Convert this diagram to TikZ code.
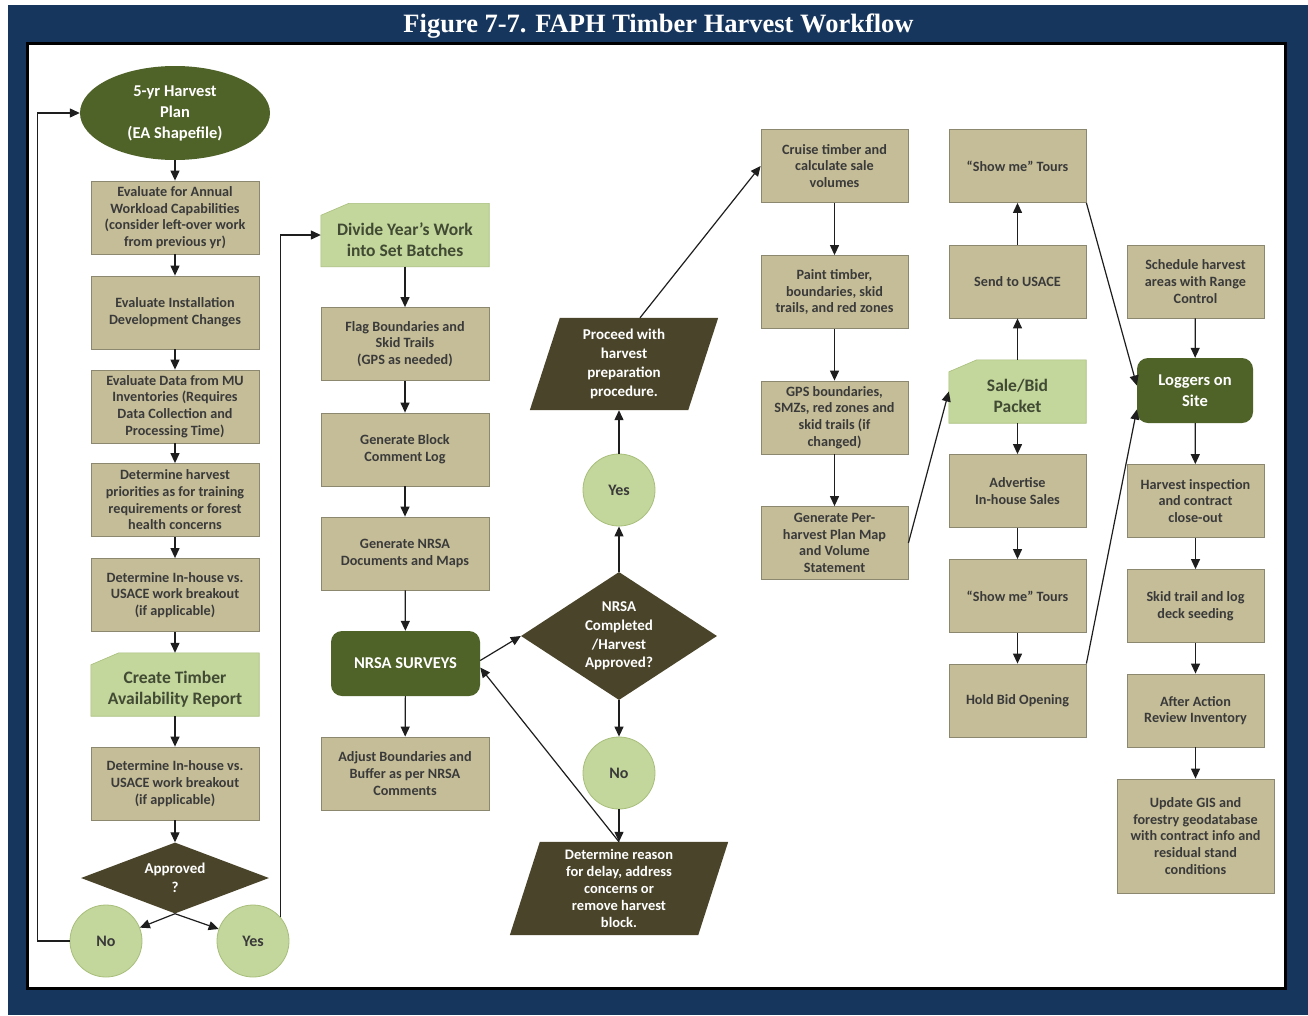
\documentclass[tikz,border=0pt]{standalone}
\usepackage{fontspec}
\setmainfont{Carlito}
\newfontfamily\titlefont{Liberation Serif}
\usetikzlibrary{arrows.meta,shapes.geometric,calc}
\definecolor{navy}{HTML}{17365D}
\definecolor{tanbox}{HTML}{C4BD97}
\definecolor{tanline}{HTML}{8C8870}
\definecolor{lgreen}{HTML}{C3D69B}
\definecolor{lgline}{HTML}{A8BF7C}
\definecolor{dgreen}{HTML}{4F6228}
\definecolor{dbrown}{HTML}{4A452A}
\definecolor{txt}{HTML}{3A3A3A}
\definecolor{cardtxt}{HTML}{414A33}
\definecolor{arrowc}{HTML}{1E1E1E}
\pgfdeclarelayer{bg}
\pgfdeclarelayer{shapes}
\pgfsetlayers{bg,shapes,main}
\newcommand{\cardlift}{\rule{0pt}{22pt}}
\tikzset{
  box/.style={rectangle, fill=tanbox, draw=tanline, line width=0.8pt, text=txt,
    font=\bfseries\fontsize{14.2}{16.7}\selectfont, align=center,
    minimum width=168pt, minimum height=73pt, inner sep=1pt},
  card/.style={rectangle, text=cardtxt, font=\bfseries\fontsize{17.5}{21}\selectfont,
    align=center, minimum width=168pt, minimum height=63pt, inner sep=1pt},
  cardbg/.style={fill=lgreen, draw=lgline, line width=0.6pt},
  circ/.style={circle, fill=lgreen, draw=lgline, line width=0.8pt, minimum size=72pt,
    inner sep=0pt, text=txt, font=\bfseries\fontsize{16}{18}\selectfont},
  ell/.style={ellipse, fill=dgreen, minimum width=190pt, minimum height=94pt, inner sep=0pt,
    text=white, align=center, font=\bfseries\fontsize{16.5}{21}\selectfont},
  rnd/.style={rectangle, rounded corners=11pt, fill=dgreen, text=white, align=center,
    font=\bfseries\fontsize{16.5}{21}\selectfont},
  dia/.style={diamond, fill=dbrown, text=white, align=center, inner sep=0pt,
    font=\bfseries\fontsize{15}{18.7}\selectfont},
  para/.style={rectangle, text=white, align=center, inner sep=0pt,
    font=\bfseries\fontsize{15}{19}\selectfont},
  arr/.style={-{Triangle[length=10pt,width=9pt]}, line width=1.2pt, draw=arrowc},
}
\begin{document}
\begin{tikzpicture}[x=1pt,y=-1pt]
\useasboundingbox (0,0) rectangle (1308,1015);
\begin{pgfonlayer}{bg}
\fill[white] (0,0) rectangle (1308,1015);
\fill[navy] (8,5) rectangle (1308,1015);
\filldraw[fill=white, draw=black, line width=3pt] (27.5,43.5) rectangle (1285.5,988.5);
\end{pgfonlayer}

\node[font=\titlefont\bfseries\fontsize{26.5}{30}\selectfont, text=white, anchor=base] (title) at (658.5,32) {Figure 7-7. FAPH Timber Harvest Workflow};

% left column
\node[ell] (plan) at (175,113) {5-yr Harvest\\Plan\\(EA Shapefile)};
\node[box] (b1) at (175,217.5) {Evaluate for Annual\\Workload Capabilities\\(consider left-over work\\from previous yr)};
\node[box] (b2) at (175,312.5) {Evaluate Installation\\Development Changes};
\node[box] (b3) at (175,406.5) {Evaluate Data from MU\\Inventories (Requires\\Data Collection and\\Processing Time)};
\node[box] (b4) at (175,500) {Determine harvest\\priorities as for training\\requirements or forest\\health concerns};
\node[box] (b5) at (175,595) {Determine In-house vs.\\USACE work breakout\\(if applicable)};
\node[card] (card1) at (175,684.5) {\cardlift Create Timber\\Availability Report};
\node[box] (b6) at (175,783.5) {Determine In-house vs.\\USACE work breakout\\(if applicable)};
\node[dia, minimum width=188pt, minimum height=71pt, aspect=2.6] (appr) at (175,878) {Approved\\?};
\node[circ] (noL) at (106,941) {No};
\node[circ] (yesL) at (253,941) {Yes};

% middle column
\node[card] (card2) at (405,235) {\cardlift Divide Year’s Work\\into Set Batches};
\node[box] (m1) at (405,344) {Flag Boundaries and\\Skid Trails\\(GPS as needed)};
\node[box] (m2) at (405,449.5) {Generate Block\\Comment Log};
\node[box] (m3) at (405,553.5) {Generate NRSA\\Documents and Maps};
\node[rnd, minimum width=149pt, minimum height=65pt] (nrsa) at (405.5,663.5) {NRSA SURVEYS};
\node[box] (m4) at (405,773.5) {Adjust Boundaries and\\Buffer as per NRSA\\Comments};

% decision column
\node[para, minimum width=158pt, minimum height=92pt] (proc) at (624,364) {Proceed with\\harvest\\preparation\\procedure.};
\node[circ] (yesM) at (619,490) {Yes};
\node[dia, minimum width=196pt, minimum height=128pt, aspect=1.53] (dec) at (619,636) {NRSA\\Completed\\/Harvest\\Approved?};
\node[circ] (noM) at (619,773) {No};
\node[para, minimum width=188pt, minimum height=93pt, font=\bfseries\fontsize{14.5}{16.8}\selectfont] (det) at (619,888.5) {Determine reason\\for delay, address\\concerns or\\remove harvest\\block.};

% fourth column
\node[box, minimum width=147pt] (cruise) at (834.5,166) {Cruise timber and\\calculate sale\\volumes};
\node[box, minimum width=147pt] (paint) at (834.5,292) {Paint timber,\\boundaries, skid\\trails, and red zones};
\node[box, minimum width=147pt] (gps) at (834.5,417.5) {GPS boundaries,\\SMZs, red zones and\\skid trails (if\\changed)};
\node[box, minimum width=147pt] (gen) at (834.5,543) {Generate Per-\\harvest Plan Map\\and Volume\\Statement};

% fifth column
\node[box, minimum width=137pt] (show1) at (1017.5,166) {“Show me” Tours};
\node[box, minimum width=137pt] (usace) at (1017.5,281.5) {Send to USACE};
\node[card, minimum width=137pt] (sale) at (1017.5,391.5) {\cardlift Sale/Bid\\Packet};
\node[box, minimum width=137pt] (adv) at (1017.5,491) {Advertise\\In-house Sales};
\node[box, minimum width=137pt] (show2) at (1017.5,596) {“Show me” Tours};
\node[box, minimum width=137pt] (hold) at (1017.5,700.5) {Hold Bid Opening};

% sixth column
\node[box, minimum width=137pt] (sched) at (1195.5,281.5) {Schedule harvest\\areas with Range\\Control};
\node[rnd, minimum width=116pt, minimum height=65pt] (log) at (1195,390.5) {Loggers on\\Site};
\node[box, minimum width=137pt] (insp) at (1195.5,501) {Harvest inspection\\and contract\\close-out};
\node[box, minimum width=137pt] (skid) at (1195.5,606) {Skid trail and log\\deck seeding};
\node[box, minimum width=137pt] (aar) at (1195.5,710.5) {After Action\\Review Inventory};
\node[box, minimum width=157pt, minimum height=114pt] (gis) at (1195.5,836) {Update GIS and\\forestry geodatabase\\with contract info and\\residual stand\\conditions};

\begin{pgfonlayer}{shapes}
\foreach \c in {card1,card2,sale}
  \filldraw[cardbg] (\c.south west) -- ([yshift=-12pt]\c.north west) -- ([xshift=28pt]\c.north west) -- (\c.north east) -- (\c.south east) -- cycle;
\foreach \p in {proc,det}
  \fill[dbrown] ([xshift=-15pt]\p.south west) -- ([xshift=15pt]\p.north west) -- ([xshift=15pt]\p.north east) -- ([xshift=-15pt]\p.south east) -- cycle;
\end{pgfonlayer}

% connectors left
\draw[arr] (plan) -- (b1);
\draw[arr] (b1) -- (b2);
\draw[arr] (b2) -- (b3);
\draw[arr] (b3) -- (b4);
\draw[arr] (b4) -- (b5);
\draw[arr] (b5) -- (card1);
\draw[arr] (card1) -- (b6);
\draw[arr] (b6) -- (appr);
\draw[arr] (appr.south) -- (noL);
\draw[arr] (appr.south) -- (yesL);
\draw[arr] (noL.west) -- ++(-32,0) |- (plan.west);
\draw[arr] (yesL.41) |- (card2.west);

% connectors middle
\draw[arr] (card2) -- (m1);
\draw[arr] (m1) -- (m2);
\draw[arr] (m2) -- (m3);
\draw[arr] (m3) -- (nrsa);
\draw[arr] (nrsa) -- (m4);
\draw[arr] ([yshift=3pt]nrsa.east) -- (dec.west);
\draw[arr] (det.north -| noM) -- ([yshift=-4pt]nrsa.east);
\draw[arr] (dec.south) -- (noM);
\draw[arr] (noM) -- (det.north -| noM);
\draw[arr] (dec.north) -- (yesM);
\draw[arr] (yesM) -- (yesM |- proc.south);
\draw[arr] ([xshift=16pt]proc.north) -- (cruise.west);

% fourth column
\draw[arr] (cruise) -- (paint);
\draw[arr] (paint) -- (gps);
\draw[arr] (gps) -- (gen);
\draw[arr] (gen.east) -- (sale.west);

% fifth column
\draw[arr] (sale) -- (usace);
\draw[arr] (usace) -- (show1);
\draw[arr] (sale) -- (adv);
\draw[arr] (adv) -- (show2);
\draw[arr] (show2) -- (hold);
\draw[arr] (show1.south east) -- ([yshift=5pt]log.west);
\draw[arr] (hold.north east) -- ([yshift=-19pt]log.west);

% sixth column
\draw[arr] (sched) -- (log);
\draw[arr] (log) -- (insp);
\draw[arr] (insp) -- (skid);
\draw[arr] (skid) -- (aar);
\draw[arr] (aar) -- (gis);
\end{tikzpicture}
\end{document}
